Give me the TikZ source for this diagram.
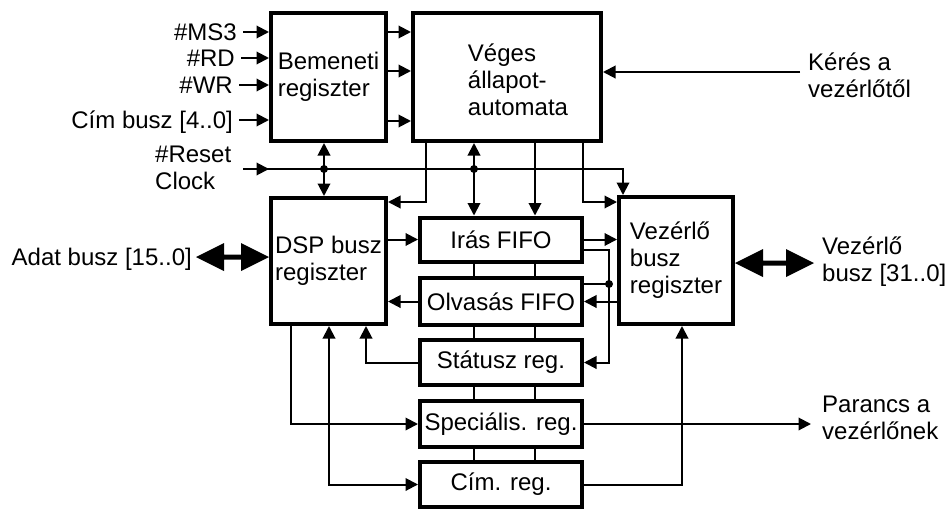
\documentclass[tikz,border=0pt]{standalone}
\usepackage{fontspec}
\setmainfont{Liberation Sans}
\usetikzlibrary{arrows.meta,calc}

\begin{document}
\begin{tikzpicture}[x=1pt,y=-1pt,
  font=\fontsize{24}{27}\selectfont,
  blk/.style={draw, line width=4pt, rectangle, inner sep=0pt, align=left},
  stk/.style={blk, minimum width=162pt, align=center},
  lbl/.style={inner sep=0pt, text height=17.2pt, text depth=0pt},
  txt/.style={inner sep=0pt, align=left},
  ln/.style={line width=2pt},
  arr/.style={ln, -{Triangle[length=12.5pt,width=12.5pt]}},
  dbl/.style={ln, {Triangle[length=12.5pt,width=12.5pt]}-{Triangle[length=12.5pt,width=12.5pt]}},
  dot/.style={circle, fill, inner sep=0pt, minimum size=8pt}]
\useasboundingbox (0,0) rectangle (945,509);

% main blocks
\node[blk, minimum width=115pt, minimum height=128pt] (bem) at (328.5,77) {Bemeneti\\regiszter};
\node[blk, minimum width=188pt, minimum height=128pt] (fsm) at (507,77) {};
\node[txt] (fsmtxt) at (518,80) {Véges\\állapot-\\automata};
\node[blk, minimum width=115pt, minimum height=126pt] (dsp) at (328.5,261) {DSP busz\\regiszter};
\node[blk, minimum width=114pt, minimum height=127pt] (vez) at (676,260.5) {Vezérlő\\busz\\regiszter};

% register stack
\node[stk, minimum height=44pt] (iras) at (501,239.5) {Irás FIFO};
\node[stk, minimum height=47pt] (olv)  at (501,301.5) {Olvasás FIFO};
\node[stk, minimum height=45pt] (stat) at (501,362.5) {Státusz reg.};
\node[stk, minimum height=46pt] (spec) at (501,424) {Speciális. reg.};
\node[stk, minimum height=45pt] (cim)  at (501,484.5) {Cím. reg.};

% outside labels
\node[lbl, anchor=east] (ms) at (237,32) {\#MS3};
\node[lbl, anchor=east] (rd) at (235,58) {\#RD};
\node[lbl, anchor=east] (wr) at (233,85) {\#WR};
\node[lbl, anchor=east] (ca) at (233,120) {Cím busz [4..0]};
\node[txt, anchor=west] (rst) at (155,167.5) {\#Reset\\Clock};
\node[lbl, anchor=east] (adat) at (192,257) {Adat busz [15..0]};
\node[txt, anchor=west] (ker) at (808,75) {Kérés a\\vezérlőtől};
\node[txt, anchor=west] (vbus) at (822,262) {Vezérlő\\busz [31..0]};
\node[txt, anchor=west] (par) at (822,418) {Parancs a\\vezérlőnek};

% helper coordinates
\coordinate (busA) at (474,0);
\coordinate (busB) at (535,0);
\coordinate (r1) at (0,32);
\coordinate (r2) at (0,71);
\coordinate (r3) at (0,121);
\coordinate (rs) at (243,169);
\coordinate (rsturn) at (623,169);
\coordinate (j1) at (324,169);
\coordinate (j2) at (474,169);
\coordinate (t1) at (426,202);
\coordinate (t2) at (583,202);
\coordinate (t3) at (609,250);
\coordinate (j3) at (609,284);
\coordinate (c291) at (291,0);
\coordinate (c329) at (329,0);
\coordinate (c366) at (366,0);
\coordinate (c682) at (682,0);
\coordinate (kst) at (800,72);
\coordinate (pend) at (811,424);
\coordinate (fa) at (196,257);
\coordinate (fb) at (814,263);

% control inputs
\foreach \n in {ms,rd,wr,ca}
  \draw[arr] ([xshift=6pt]\n.east) -- (bem.west |- \n.east);

% input register to state machine
\foreach \r in {r1,r2,r3}
  \draw[arr] (bem.east |- \r) -- (fsm.west |- \r);
\draw[arr] (kst) -- (fsm.east |- kst);

% reset / clock distribution
\draw[arr] (rs) -- (rs -| bem.west);
\draw[arr] (rs) -- (rsturn) -- (vez.north -| rsturn);
\draw[dbl] (bem.south -| j1) -- (dsp.north -| j1);
\draw[dbl] (fsm.south -| j2) -- (iras.north -| j2);
\node[dot] (d1) at (j1) {};
\node[dot] (d2) at (j2) {};

% state machine outputs
\draw[arr] (fsm.south -| busB) -- (iras.north -| busB);
\draw[arr] (fsm.south -| t1) -- (t1) -- (dsp.east |- t1);
\draw[arr] (fsm.south -| t2) -- (t2) -- (vez.west |- t2);

% FIFO paths
\draw[arr] (dsp.east |- iras.west) -- (iras.west);
\draw[arr] (olv.west) -- (dsp.east |- olv.west);
\draw[arr] (iras.east) -- (vez.west |- iras.east);
\draw[arr] (vez.west |- olv.east) -- (olv.east);
\draw[arr] (iras.east |- t3) -- (t3) -- (t3 |- stat.east) -- (stat.east);
\draw[ln] (olv.east |- j3) -- (j3);
\node[dot] (d3) at (j3) {};

% internal links of the register stack
\foreach \a/\b in {iras/olv, olv/stat, stat/spec, spec/cim} {
  \draw[ln] (\a.south -| busA) -- (\b.north -| busA);
  \draw[ln] (\a.south -| busB) -- (\b.north -| busB);
}

% registers below the DSP bus register
\draw[arr] (stat.west) -- (stat.west -| c366) -- (dsp.south -| c366);
\draw[arr] (dsp.south -| c291) -- (c291 |- spec.west) -- (spec.west);
\draw[dbl] (dsp.south -| c329) -- (c329 |- cim.west) -- (cim.west);
\draw[arr] (cim.east) -- (cim.east -| c682) -- (vez.south -| c682);
\draw[arr] (spec.east) -- (pend);

% data buses: wide double-headed arrows
\fill (fa) -- ++(28,-14) -- ++(0,11.5) -- ($(dsp.west |- fa)+(-28,-2.5)$) -- ++(0,-11.5)
  -- (dsp.west |- fa) -- ++(-28,14) -- ++(0,-11.5) -- ($(fa)+(28,2.5)$) -- ++(0,11.5) -- cycle;
\fill (vez.east |- fb) -- ++(28,-14) -- ++(0,11.5) -- ($(fb)+(-28,-2.5)$) -- ++(0,-11.5)
  -- (fb) -- ++(-28,14) -- ++(0,-11.5) -- ($(vez.east |- fb)+(28,2.5)$) -- ++(0,11.5) -- cycle;
\end{tikzpicture}
\end{document}
